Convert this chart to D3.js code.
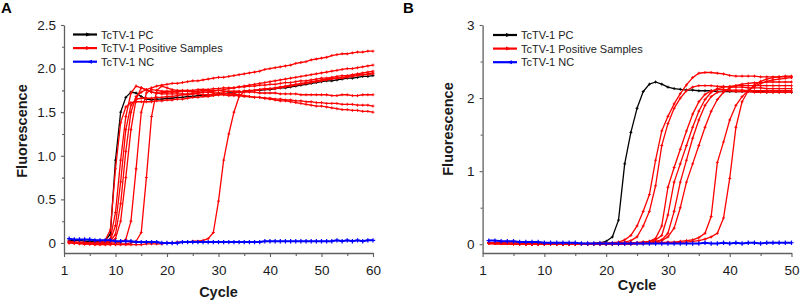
<!DOCTYPE html>
<html><head><meta charset="utf-8">
<script src="https://cdn.jsdelivr.net/npm/d3@7"></script>
<style>body{margin:0;background:#fff}svg{display:block;font-family:"Liberation Sans",Arial,sans-serif}</style>
</head><body><svg id="c" width="800" height="302"></svg>
<script>
// ---------- Panel A data (cycles 1..60) ----------
const cyclesA = d3.range(1, 61);
const pcA = [0.03,0.03,0.03,0.02,0.02,0.02,0.02,0.03,0.10,0.95,
1.50,1.67,1.73,1.72,1.68,1.65,1.64,1.65,1.65,1.66,
1.66,1.67,1.67,1.68,1.68,1.69,1.69,1.70,1.70,1.71,
1.71,1.72,1.72,1.73,1.74,1.74,1.75,1.75,1.76,1.76,
1.77,1.78,1.78,1.79,1.80,1.81,1.82,1.83,1.84,1.85,
1.86,1.86,1.87,1.88,1.89,1.89,1.90,1.91,1.91,1.92];
const posA1 = [0.02,0.01,0.01,0.01,0.00,0.01,0.01,0.03,0.15,0.85,
1.38,1.56,1.61,1.62,1.62,1.62,1.62,1.63,1.63,1.64,
1.64,1.65,1.65,1.66,1.67,1.67,1.68,1.68,1.69,1.70,
1.71,1.71,1.72,1.73,1.74,1.74,1.75,1.76,1.77,1.77,
1.78,1.79,1.80,1.81,1.82,1.83,1.84,1.85,1.86,1.87,
1.88,1.89,1.89,1.90,1.91,1.92,1.93,1.93,1.94,1.95];
const posA2 = [0.01,0.01,0.00,0.00,0.00,0.00,0.01,0.01,0.05,0.35,
0.95,1.45,1.72,1.80,1.78,1.75,1.73,1.72,1.72,1.73,
1.73,1.73,1.74,1.74,1.74,1.74,1.75,1.75,1.75,1.75,
1.74,1.74,1.74,1.74,1.73,1.73,1.73,1.72,1.72,1.72,
1.72,1.71,1.71,1.71,1.71,1.70,1.70,1.70,1.70,1.70,
1.70,1.69,1.69,1.70,1.70,1.69,1.69,1.70,1.70,1.70];
const posA3 = [0.01,0.00,0.00,0.00,-0.01,0.00,0.00,0.01,0.03,0.20,
0.70,1.30,1.58,1.65,1.66,1.66,1.66,1.67,1.67,1.68,
1.68,1.69,1.70,1.70,1.71,1.72,1.73,1.73,1.74,1.75,
1.76,1.77,1.78,1.79,1.80,1.81,1.82,1.83,1.84,1.85,
1.86,1.87,1.88,1.89,1.90,1.91,1.92,1.93,1.94,1.95,
1.96,1.97,1.98,1.99,2.00,2.00,2.01,2.02,2.03,2.04];
const posA4 = [0.00,0.00,0.00,-0.01,-0.01,0.00,0.00,0.01,0.02,0.10,
0.45,1.05,1.50,1.68,1.73,1.76,1.78,1.80,1.81,1.82,
1.83,1.83,1.84,1.85,1.86,1.86,1.87,1.88,1.89,1.90,
1.90,1.91,1.92,1.93,1.94,1.95,1.96,1.97,1.99,2.00,
2.01,2.02,2.03,2.04,2.06,2.07,2.08,2.10,2.11,2.12,
2.13,2.15,2.16,2.17,2.17,2.18,2.19,2.19,2.20,2.20];
const posA5 = [0.01,0.00,0.00,0.00,0.00,-0.01,-0.01,0.00,0.01,0.05,
0.25,0.75,1.30,1.65,1.78,1.76,1.73,1.72,1.71,1.71,
1.71,1.71,1.71,1.71,1.71,1.71,1.70,1.70,1.70,1.70,
1.70,1.69,1.69,1.69,1.68,1.68,1.67,1.67,1.66,1.66,
1.65,1.65,1.64,1.64,1.63,1.63,1.62,1.62,1.61,1.61,
1.60,1.60,1.60,1.59,1.59,1.59,1.58,1.58,1.58,1.57];
const posA6 = [0.01,0.00,0.00,-0.01,-0.01,-0.01,-0.01,-0.01,0.00,0.00,
0.01,0.04,0.25,0.85,1.50,1.72,1.76,1.75,1.74,1.74,
1.74,1.74,1.74,1.74,1.73,1.73,1.73,1.73,1.72,1.72,
1.72,1.71,1.70,1.70,1.69,1.68,1.67,1.67,1.66,1.65,
1.64,1.63,1.63,1.62,1.61,1.60,1.59,1.58,1.57,1.57,
1.56,1.55,1.54,1.53,1.53,1.52,1.52,1.51,1.51,1.50];
const posA7 = [0.00,0.00,-0.01,-0.01,-0.01,-0.02,-0.02,-0.02,-0.02,-0.01,
-0.01,-0.01,0.00,0.02,0.12,0.75,1.45,1.75,1.80,1.78,
1.76,1.75,1.75,1.75,1.75,1.76,1.76,1.76,1.77,1.77,
1.78,1.78,1.78,1.79,1.79,1.80,1.80,1.81,1.81,1.82,
1.82,1.83,1.84,1.84,1.85,1.86,1.86,1.87,1.88,1.89,
1.89,1.90,1.91,1.92,1.92,1.93,1.94,1.95,1.96,1.97];
const posA8 = [0.01,0.01,0.00,0.00,0.00,-0.01,-0.01,-0.01,-0.01,-0.02,
-0.02,-0.02,-0.02,-0.02,-0.02,-0.01,-0.01,-0.01,-0.01,0.00,
0.00,0.01,0.01,0.01,0.02,0.02,0.03,0.05,0.12,0.48,
0.95,1.25,1.50,1.68,1.74,1.75,1.75,1.76,1.76,1.77,
1.77,1.78,1.79,1.80,1.81,1.82,1.83,1.84,1.85,1.86,
1.87,1.88,1.89,1.89,1.90,1.91,1.92,1.93,1.93,1.94];
const ncA = [0.05,0.04,0.04,0.04,0.04,0.03,0.03,0.03,0.03,0.02,
0.02,0.02,0.02,0.01,0.01,0.01,0.01,0.01,0.00,0.00,
0.00,0.00,0.01,0.01,0.01,0.01,0.01,0.01,0.01,0.01,
0.01,0.01,0.01,0.01,0.01,0.01,0.01,0.01,0.02,0.02,
0.02,0.02,0.02,0.02,0.02,0.02,0.02,0.02,0.02,0.02,
0.02,0.02,0.03,0.02,0.03,0.02,0.03,0.02,0.03,0.03];
const posSeriesA = [posA1,posA2,posA3,posA4,posA5,posA6,posA7,posA8];
const xTickValsA = [0,10,20,30,40,50,60];
const xTickLabelsA = ["1","10","20","30","40","50","60"];
const yTickValsA = [0,0.5,1.0,1.5,2.0,2.5];
const yTickLabelsA = ["0","0.5","1.0","1.5","2.0","2.5"];

// ---------- Panel B data (cycles 1..50) ----------
const cyclesB = d3.range(1, 51);
const pcB = [0.02,0.02,0.01,0.01,0.01,0.01,0.01,0.01,0.01,0.01,
0.01,0.01,0.01,0.01,0.01,0.01,0.01,0.01,0.02,0.04,
0.10,0.33,1.10,1.53,1.86,2.09,2.19,2.22,2.19,2.15,
2.13,2.12,2.11,2.11,2.10,2.10,2.10,2.09,2.09,2.09,
2.09,2.09,2.09,2.09,2.09,2.08,2.08,2.08,2.08,2.08];
const posB1 = [0.02,0.02,0.01,0.01,0.01,0.01,0.01,0.00,0.00,0.00,
0.00,0.00,0.00,0.00,0.00,0.00,0.00,0.01,0.01,0.01,
0.02,0.03,0.06,0.12,0.25,0.45,0.68,1.15,1.55,1.75,
1.92,2.06,2.18,2.28,2.34,2.35,2.35,2.34,2.33,2.31,
2.30,2.30,2.30,2.30,2.29,2.29,2.29,2.29,2.29,2.29];
const posB2 = [0.02,0.01,0.01,0.01,0.01,0.01,0.00,0.00,0.00,0.00,
0.00,0.00,0.00,0.00,0.00,0.00,0.01,0.01,0.01,0.01,
0.01,0.02,0.03,0.05,0.10,0.25,0.45,0.80,1.35,1.65,
1.86,2.00,2.10,2.15,2.17,2.17,2.17,2.16,2.16,2.15,
2.15,2.15,2.14,2.14,2.14,2.13,2.13,2.13,2.13,2.13];
const posB3 = [0.02,0.02,0.01,0.01,0.01,0.01,0.01,0.00,0.00,0.00,
0.00,0.00,0.00,0.00,0.00,0.00,0.00,0.00,0.01,0.01,
0.01,0.01,0.01,0.02,0.02,0.03,0.04,0.08,0.25,0.78,
1.05,1.30,1.55,1.78,1.95,2.05,2.10,2.12,2.12,2.11,
2.11,2.11,2.10,2.10,2.10,2.10,2.10,2.10,2.10,2.10];
const posB4 = [0.01,0.01,0.01,0.01,0.00,0.00,0.00,0.00,0.00,0.00,
0.00,0.00,0.00,0.00,0.00,0.00,0.00,0.01,0.01,0.01,
0.01,0.01,0.01,0.02,0.02,0.03,0.04,0.06,0.12,0.40,
0.85,1.10,1.35,1.60,1.82,1.98,2.08,2.13,2.15,2.16,
2.17,2.17,2.17,2.17,2.17,2.17,2.17,2.17,2.17,2.17];
const posB5 = [0.02,0.01,0.01,0.01,0.01,0.00,0.00,0.00,0.00,0.00,
0.00,0.00,0.00,0.00,0.00,0.00,0.00,0.00,0.00,0.00,
0.00,0.01,0.01,0.01,0.02,0.02,0.03,0.04,0.06,0.15,
0.45,0.85,1.15,1.45,1.70,1.90,2.02,2.08,2.10,2.10,
2.09,2.09,2.09,2.08,2.08,2.08,2.08,2.08,2.08,2.08];
const posB6 = [0.01,0.01,0.01,0.01,0.01,0.00,0.00,0.00,0.00,0.00,
0.00,0.00,0.00,0.00,0.00,0.00,0.00,0.00,0.00,0.00,
0.00,0.00,0.01,0.01,0.01,0.02,0.02,0.03,0.05,0.10,
0.22,0.50,0.85,1.10,1.35,1.60,1.82,1.98,2.08,2.14,
2.17,2.19,2.20,2.21,2.21,2.22,2.22,2.22,2.22,2.22];
const posB7 = [0.02,0.01,0.01,0.01,0.01,0.01,0.00,0.00,0.00,0.00,
0.00,0.00,0.00,0.00,0.00,0.00,0.00,0.00,0.00,0.00,
0.00,0.00,0.00,0.01,0.01,0.01,0.02,0.02,0.02,0.03,
0.03,0.04,0.05,0.06,0.09,0.15,0.38,1.12,1.40,1.70,
1.90,2.02,2.10,2.16,2.20,2.23,2.25,2.26,2.27,2.28];
const posB8 = [0.01,0.01,0.01,0.01,0.00,0.00,0.00,0.00,0.00,0.00,
0.00,0.00,0.00,0.00,0.00,0.00,0.00,0.00,0.00,0.00,
0.00,0.00,0.00,0.00,0.01,0.01,0.01,0.01,0.02,0.02,
0.02,0.03,0.03,0.04,0.05,0.07,0.10,0.15,0.36,0.90,
1.60,1.95,2.10,2.18,2.23,2.26,2.28,2.29,2.30,2.30];
const ncB = [0.05,0.05,0.04,0.04,0.04,0.03,0.03,0.03,0.03,0.02,
0.02,0.02,0.02,0.02,0.02,0.01,0.01,0.01,0.01,0.01,
0.01,0.01,0.01,0.01,0.01,0.01,0.01,0.01,0.01,0.01,
0.01,0.01,0.01,0.01,0.01,0.02,0.01,0.01,0.02,0.01,
0.02,0.01,0.02,0.02,0.01,0.02,0.02,0.02,0.02,0.02];
const posSeriesB = [posB1,posB2,posB3,posB4,posB5,posB6,posB7,posB8];
const xTickValsB = [0,10,20,30,40,50];
const xTickLabelsB = ["1","10","20","30","40","50"];
const yTickValsB = [0,1,2,3];
const yTickLabelsB = ["0","1","2","3"];

const legendLabels = ["TcTV-1 PC","TcTV-1 Positive Samples","TcTV-1 NC"];
const colors = {pc:"#000000", pos:"#ff0000", nc:"#0000ff"};

const svg = d3.select("#c");
const AX = "#5f5f5f", TX = "#1a1a1a";

function drawPanel(o){
  const g = svg.append("g");
  const x = d3.scaleLinear().domain(o.xDom).range(o.xRange);
  const y = d3.scaleLinear().domain(o.yDom).range(o.yRange);
  g.append("g").attr("transform",`translate(${o.xRange[0]},0)`)
    .call(d3.axisLeft(y).tickValues(o.yTicks).tickFormat((d,i)=>o.yLabels[i]).tickSize(3).tickSizeOuter(0).tickPadding(5));
  g.append("g").attr("transform",`translate(0,${o.yRange[0]})`)
    .call(d3.axisBottom(x).tickValues(o.xTicks).tickFormat((d,i)=>o.xLabels[i]).tickSize(4).tickSizeOuter(0).tickPadding(8));
  g.append("g").attr("transform",`translate(${o.xRange[0]},0)`)
    .call(d3.axisLeft(y).tickValues(o.yMinor).tickFormat("").tickSize(2).tickSizeOuter(0))
    .select(".domain").remove();
  g.append("g").attr("transform",`translate(0,${o.yRange[0]})`)
    .call(d3.axisBottom(x).tickValues(o.xMinor).tickFormat("").tickSize(3).tickSizeOuter(0))
    .select(".domain").remove();
  g.selectAll(".domain").attr("stroke",AX).attr("stroke-width",1.3);
  g.selectAll(".tick line").attr("stroke",AX).attr("stroke-width",1.1);
  g.selectAll(".tick text").attr("fill",TX).attr("font-size","13.5px").attr("font-family","Liberation Sans, Arial, sans-serif");

  const line = d3.line().x((d,i)=>x(o.cycles[i])).y(d=>y(d));
  const drawSeries = (vals,color,ms,sw,mw)=>{
    const s = g.append("g");
    s.append("path").attr("d",line(vals)).attr("fill","none").attr("stroke",color).attr("stroke-width",sw).attr("stroke-linejoin","round");
    s.selectAll("path.m").data(vals).join("path").attr("class","m")
      .attr("d",(d,i)=>{const px=x(o.cycles[i]),py=y(d);return `M${px-ms},${py}H${px+ms}M${px},${py-ms}V${py+ms}`;})
      .attr("stroke",color).attr("stroke-width",mw);
  };
  drawSeries(o.pc,colors.pc,1.5,1.3,0.9);
  o.pos.forEach(v=>drawSeries(v,colors.pos,1.5,1.3,0.9));
  drawSeries(o.nc,colors.nc,2.2,2,1.2);

  const lg = g.append("g");
  const cols=[colors.pc,colors.pos,colors.nc];
  legendLabels.forEach((t,i)=>{
    const yy = o.leg[1] + i*13.6;
    lg.append("line").attr("x1",o.leg[0]).attr("x2",o.leg[0]+24).attr("y1",yy).attr("y2",yy)
      .attr("stroke",cols[i]).attr("stroke-width",2.2);
    const mx=o.leg[0]+16;
    const tri = i<2 ? `M${mx-3},${yy-2}L${mx+2},${yy}L${mx-3},${yy+2}Z` : `M${mx+3},${yy-2}L${mx-2},${yy}L${mx+3},${yy+2}Z`;
    lg.append("path").attr("d",tri).attr("fill",cols[i]);
    lg.append("text").attr("x",o.leg[0]+28).attr("y",yy+4).text(t)
      .attr("font-size","11px").attr("fill","#222");
  });
  g.append("text").attr("transform",`translate(${o.yTitleX},${o.yTitleY}) rotate(-90)`)
    .attr("text-anchor","middle").attr("font-weight","bold").attr("font-size","14.5px").attr("fill",TX).text("Fluorescence");
  g.append("text").attr("x",(o.xRange[0]+o.xRange[1])/2).attr("y",o.xTitleY)
    .attr("text-anchor","middle").attr("font-weight","bold").attr("font-size","14.5px").attr("fill",TX).text("Cycle");
  g.append("text").attr("x",o.lab[0]).attr("y",o.lab[1]).attr("font-weight","bold").attr("font-size","15px").attr("fill","#000").text(o.label);
}

drawPanel({label:"A",lab:[1,13],cycles:cyclesA,xDom:[0,60],xRange:[64,373],yDom:[-0.115,2.5],yRange:[253,25],
  xTicks:xTickValsA,xLabels:xTickLabelsA,yTicks:yTickValsA,yLabels:yTickLabelsA,
  xMinor:[5,15,25,35,45,55],yMinor:[0.25,0.75,1.25,1.75,2.25],
  pc:pcA,pos:posSeriesA,nc:ncA,leg:[73,34.5],yTitleX:27,yTitleY:131,xTitleY:297});
drawPanel({label:"B",lab:[403,13],cycles:cyclesB,xDom:[0,50],xRange:[482.6,791.5],yDom:[-0.12,3],yRange:[253,25],
  xTicks:xTickValsB,xLabels:xTickLabelsB,yTicks:yTickValsB,yLabels:yTickLabelsB,
  xMinor:[5,15,25,35,45],yMinor:[0.5,1.5,2.5],
  pc:pcB,pos:posSeriesB,nc:ncB,leg:[493,35],yTitleX:453,yTitleY:129,xTitleY:290});
</script></body></html>
